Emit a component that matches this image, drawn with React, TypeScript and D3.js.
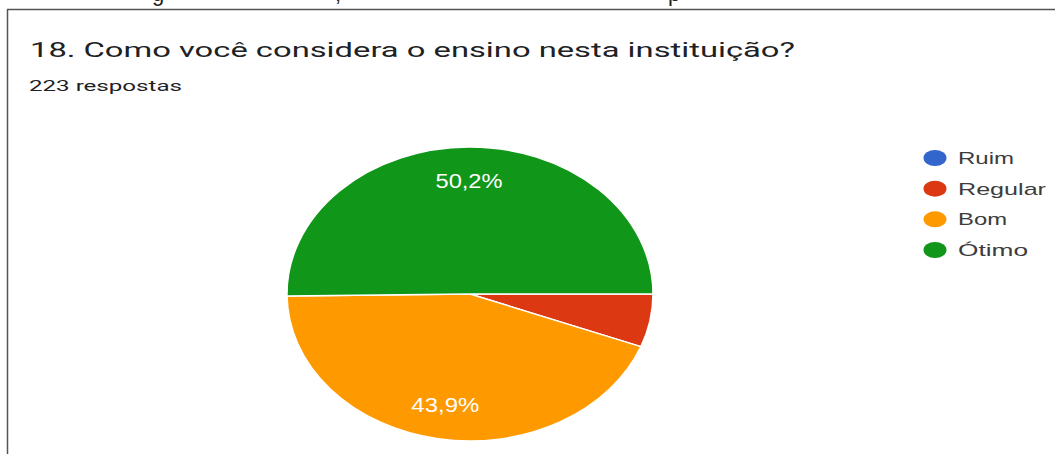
import React from "react";
import * as d3 from "d3";

const categories = ["Ruim", "Regular", "Bom", "Ótimo"];
const counts = [0, 13, 98, 112];
const colors = ["#3366cc", "#dc3912", "#ff9900", "#109618"];
const sliceLabels = ["", "", "43,9%", "50,2%"];
const title = "18. Como você considera o ensino nesta instituição?";
const subtitle = "223 respostas";

const W = 1055;
const H = 454;

export default function App() {
  const cx = 470;
  const cy = 294;
  const r = 147;
  const sx = 183 / 147;

  const pie = d3
    .pie<number>()
    .sort(null)
    .value((d) => d)
    .startAngle(Math.PI / 2)
    .endAngle(Math.PI / 2 + 2 * Math.PI);
  const arcs = pie(counts);
  const arc = d3.arc<d3.PieArcDatum<number>>().innerRadius(0).outerRadius(r);
  const labelArc = d3.arc<d3.PieArcDatum<number>>().innerRadius(113).outerRadius(113);

  const legendY = d3.scaleLinear().domain([0, categories.length - 1]).range([158, 250]);
  const labelWidths = [0, 0, 68, 67];
  const legendWidths = [56, 88, 49, 70];

  return (
    <svg
      width={W}
      height={H}
      style={{ position: "absolute", left: 0, top: 0, background: "#fff" }}
    >
      <rect x={0} y={0} width={W} height={H} fill="#fff" />
      {/* cut-off text fragments from above */}
      <g fill="#222" fontFamily="Liberation Sans, Arial, sans-serif" fontSize={22}>
        <text x={152} y={1}>g</text>
        <text x={335} y={1}>,</text>
        <text x={668} y={1}>p</text>
      </g>
      {/* frame */}
      <line x1={7} y1={9.5} x2={W} y2={9.5} stroke="#555" strokeWidth={1.5} />
      <line x1={7.5} y1={9} x2={7.5} y2={H} stroke="#555" strokeWidth={1.5} />

      <text
        x={30}
        y={57}
        fontFamily="Roboto, sans-serif"
        fontSize={21}
        fill="#202124"
        textLength={765}
        lengthAdjust="spacingAndGlyphs"
      >
        {title}
      </text>
      <text
        x={29}
        y={91}
        fontFamily="Roboto, sans-serif"
        fontSize={15.5}
        fill="#202124"
        textLength={153}
        lengthAdjust="spacingAndGlyphs"
      >
        {subtitle}
      </text>

      <g transform={`translate(${cx},${cy}) scale(${sx},1)`}>
        {arcs.map((a, i) =>
          a.value > 0 ? (
            <path
              key={i}
              d={arc(a) || ""}
              fill={colors[i]}
              stroke="#fff"
              strokeWidth={1.5}
              vectorEffect="non-scaling-stroke"
            />
          ) : null
        )}
      </g>
      {arcs.map((a, i) => {
        if (!sliceLabels[i]) return null;
        const [lx, ly] = labelArc.centroid(a);
        return (
          <text
            key={i}
            x={cx + lx * sx - labelWidths[i] / 2}
            y={cy + ly + 7}
            fontFamily="Liberation Sans, Arial, sans-serif"
            fontSize={19.5}
            fill="#ffffff"
            textLength={labelWidths[i]}
            lengthAdjust="spacingAndGlyphs"
          >
            {sliceLabels[i]}
          </text>
        );
      })}

      {categories.map((c, i) => (
        <g key={c}>
          <ellipse cx={935} cy={legendY(i)} rx={11.5} ry={8} fill={colors[i]} />
          <text
            x={958}
            y={legendY(i) + 6}
            fontFamily="Liberation Sans, Arial, sans-serif"
            fontSize={17}
            fill="#3c3c3c"
            textLength={legendWidths[i]}
            lengthAdjust="spacingAndGlyphs"
          >
            {c}
          </text>
        </g>
      ))}
    </svg>
  );
}
